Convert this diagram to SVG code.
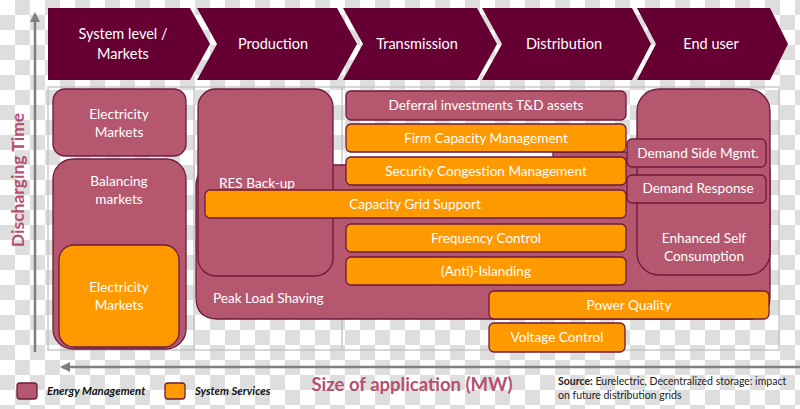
<svg xmlns="http://www.w3.org/2000/svg" width="800" height="409" viewBox="0 0 800 409">
<style>
.hdr{fill:#660033}
.hd{font-family:Lato,"Liberation Sans",sans-serif;font-size:14.5px;fill:#fff;text-anchor:middle}
.em{fill:#b5586f;stroke:#6e1a3a;stroke-width:1.3}
.ss{fill:#ff9900;stroke:#6e1a3a;stroke-width:1.3}
.bt{font-family:Lato,"Liberation Sans",sans-serif;font-size:13.6px;fill:#fff;text-anchor:middle}
.axl{font-family:Lato,"Liberation Sans",sans-serif;font-weight:bold;fill:#b5506e}
.lg{font-family:Lato,"Liberation Sans",sans-serif;font-size:11.3px;font-style:italic;font-weight:bold;fill:#111}
.src{font-family:Lato,"Liberation Sans",sans-serif;font-size:10.5px;fill:#222}
.ax{stroke:#7f7f7f;stroke-width:2.5;fill:none}
</style>
<defs>
<pattern id="ck" x="15" y="0" width="30" height="30" patternUnits="userSpaceOnUse">
<rect width="30" height="30" fill="#ffffff"/>
<rect width="15" height="15" fill="#dedede"/>
<rect x="15" y="15" width="15" height="15" fill="#dedede"/>
</pattern>
<marker id="ah" viewBox="0 0 10 10" refX="8" refY="5" markerWidth="4" markerHeight="4" orient="auto" markerUnits="strokeWidth">
<path d="M0,0 L10,5 L0,10 Z" fill="#7f7f7f"/>
</marker>
</defs>
<rect width="800" height="409" fill="url(#ck)"/>

<g id="header">
<path class="hdr" d="M48,8 L190,8 L210,44 L190,80 L48,80 Z"/>
<path class="hdr" d="M197,8 L337,8 L357,44 L337,80 L197,80 L217,44 Z"/>
<path class="hdr" d="M343,8 L477,8 L497,44 L477,80 L343,80 L363,44 Z"/>
<path class="hdr" d="M482,8 L632,8 L651,44 L632,80 L482,80 L502,44 Z"/>
<path class="hdr" d="M637,8 L770,8 L788,44 L770,80 L637,80 L656,44 Z"/>
<text class="hd" x="123" y="39">System level /</text>
<text class="hd" x="123" y="59">Markets</text>
<text class="hd" x="273" y="49">Production</text>
<text class="hd" x="417" y="49">Transmission</text>
<text class="hd" x="564" y="49">Distribution</text>
<text class="hd" x="711" y="49">End user</text>
</g>

<g id="frame" fill="none" stroke="#bdbdbd" stroke-width="1.2">
<rect x="48" y="87" width="731" height="263"/>
<line x1="194" y1="87" x2="194" y2="350"/>
<line x1="342" y1="87" x2="342" y2="350"/>
</g>

<g id="connectors">
<line class="ax" x1="35" y1="352" x2="35" y2="14" marker-end="url(#ah)"/>
<line class="ax" x1="800" y1="367" x2="62" y2="367" marker-end="url(#ah)"/>
</g>

<g id="elec-markets-em">
<rect class="em" x="53" y="89" width="133" height="67" rx="12"/>
<text class="bt" x="119" y="119">Electricity</text>
<text class="bt" x="119" y="137">Markets</text>
</g>
<g id="balancing">
<rect class="em" x="53" y="159" width="133" height="190" rx="20"/>
<text class="bt" x="119" y="186">Balancing</text>
<text class="bt" x="119" y="204">markets</text>
</g>
<g id="elec-markets-ss">
<rect class="ss" x="59" y="245" width="120" height="102" rx="15"/>
<text class="bt" x="119" y="292">Electricity</text>
<text class="bt" x="119" y="310">Markets</text>
</g>

<g id="peak-load">
<path class="em" d="M196,187 Q196,165 218,165 L553,165 L553,152 L750,152 Q770,152 770,172 L770,297 Q770,319 748,319 L218,319 Q196,319 196,297 Z"/>
<rect x="346" y="152.5" width="206" height="4" fill="#ffffff"/>
<text class="bt" x="213" y="303" style="text-anchor:start">Peak Load Shaving</text>
</g>
<g id="res-backup">
<rect class="em" x="198" y="89" width="135" height="187" rx="18"/>
<text class="bt" x="257" y="188">RES Back-up</text>
</g>
<g id="enhanced">
<rect class="em" x="637" y="89" width="133" height="186" rx="22"/>
<text class="bt" x="704" y="243">Enhanced Self</text>
<text class="bt" x="704" y="261">Consumption</text>
</g>

<g id="deferral">
<rect class="em" x="346" y="91" width="280" height="29" rx="5"/>
<text class="bt" x="486" y="110">Deferral investments T&amp;D assets</text>
</g>
<g id="firm">
<rect class="ss" x="346" y="124" width="280" height="28" rx="5"/>
<text class="bt" x="486" y="143">Firm Capacity Management</text>
</g>
<g id="security">
<rect class="ss" x="346" y="157" width="280" height="28" rx="5"/>
<text class="bt" x="486" y="176">Security Congestion Management</text>
</g>
<g id="demand-side">
<rect class="em" x="627" y="139" width="139" height="28" rx="5"/>
<text class="bt" x="698" y="158">Demand Side Mgmt.</text>
</g>
<g id="demand-response">
<rect class="em" x="627" y="175" width="139" height="28" rx="5"/>
<text class="bt" x="698" y="193">Demand Response</text>
</g>
<g id="capacity-grid">
<rect class="ss" x="205" y="190" width="421" height="28" rx="5"/>
<text class="bt" x="415" y="209">Capacity Grid Support</text>
</g>
<g id="frequency">
<rect class="ss" x="346" y="224" width="280" height="28" rx="5"/>
<text class="bt" x="486" y="243">Frequency Control</text>
</g>
<g id="islanding">
<rect class="ss" x="346" y="257" width="280" height="28" rx="5"/>
<text class="bt" x="486" y="276">(Anti)-Islanding</text>
</g>
<g id="power-quality">
<rect class="ss" x="489" y="291" width="280" height="28" rx="5"/>
<text class="bt" x="629" y="310">Power Quality</text>
</g>
<g id="voltage">
<rect class="ss" x="489" y="323" width="136" height="29" rx="5"/>
<text class="bt" x="557" y="342">Voltage Control</text>
</g>

<g id="axis-labels">
<text class="axl" x="0" y="0" font-size="17.5" text-anchor="middle" transform="translate(24,180) rotate(-90)">Discharging Time</text>
<text class="axl" x="412" y="391" font-size="18.5" text-anchor="middle">Size of application (MW)</text>
</g>

<g id="legend">
<rect class="em" x="17" y="383" width="20" height="16" rx="3"/>
<text class="lg" x="47" y="395">Energy Management</text>
<rect class="ss" x="165" y="383" width="20" height="16" rx="3"/>
<text class="lg" x="195" y="395">System Services</text>
</g>

<g id="source">
<text class="src" x="558" y="385"><tspan font-weight="bold">Source:</tspan> Eurelectric, Decentralized storage: impact</text>
<text class="src" x="558" y="399">on future distribution grids</text>
</g>
</svg>
